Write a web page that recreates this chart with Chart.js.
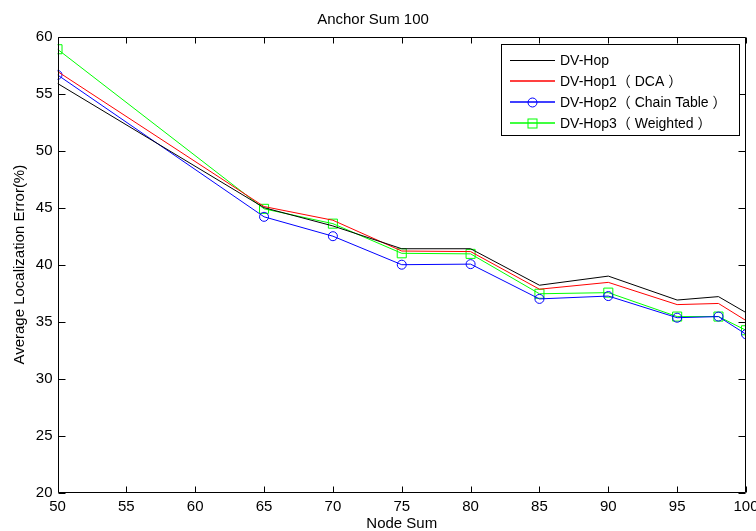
<!DOCTYPE html>
<html>
<head>
<meta charset="utf-8">
<script src="https://cdn.jsdelivr.net/npm/chart.js@4"></script>
<style>
html,body{margin:0;padding:0;background:#fff;overflow:hidden;width:756px;height:531px;}
#c{display:block;}
</style>
</head>
<body>
<canvas id="c" width="780" height="531"></canvas>
<script>
const nodeSum = [50, 65, 70, 75, 80, 85, 90, 95, 98, 100];
const dvHop = [55.9, 45.0, 43.4, 41.4, 41.4, 38.2, 39.0, 36.9, 37.2, 35.8];
const dvHop1 = [56.95, 45.1, 43.9, 41.2, 41.15, 37.85, 38.45, 36.5, 36.6, 35.1];
const dvHop2 = [56.65, 44.2, 42.5, 40.0, 40.05, 37.0, 37.25, 35.35, 35.45, 33.9];
const dvHop3 = [58.9, 44.9, 43.6, 41.0, 40.95, 37.45, 37.55, 35.45, 35.45, 34.25];
const seriesNames = ['DV-Hop', 'DV-Hop1（ DCA ）', 'DV-Hop2（ Chain Table ）', 'DV-Hop3（ Weighted ）'];
const seriesColors = ['#000000', '#ff0000', '#0000ff', '#00ff00'];
const xTicks = [50, 55, 60, 65, 70, 75, 80, 85, 90, 95, 100];
const yTicks = [20, 25, 30, 35, 40, 45, 50, 55, 60];

const FONT = '"Liberation Sans", Arial, "Noto Sans CJK SC", sans-serif';
const toPts = arr => arr.map((v, i) => ({x: nodeSum[i], y: v}));

const frameAndLegend = {
  id: 'frameAndLegend',
  afterDatasetsDraw(chart) {
    const {ctx, chartArea: a, scales: {x, y}} = chart;
    ctx.save();
    ctx.strokeStyle = '#000';
    ctx.lineWidth = 1;
    const L = Math.round(a.left) + 0.5, R = Math.round(a.right) - 0.5;
    const T = Math.round(a.top) + 0.5, B = Math.round(a.bottom) - 0.5;
    ctx.beginPath();
    ctx.rect(L, T, R - L, B - T);
    ctx.stroke();
    ctx.beginPath();
    xTicks.forEach(v => {
      const px = Math.round(x.getPixelForValue(v)) + 0.5;
      ctx.moveTo(px, B); ctx.lineTo(px, B - 6);
      ctx.moveTo(px, T); ctx.lineTo(px, T + 6);
    });
    yTicks.forEach(v => {
      const py = Math.round(y.getPixelForValue(v)) + 0.5;
      ctx.moveTo(L, py); ctx.lineTo(L + 7, py);
      ctx.moveTo(R, py); ctx.lineTo(R - 7, py);
    });
    ctx.stroke();

    // legend box
    const bx = 501.5, by = 44.5, bw = 238, bh = 91;
    ctx.fillStyle = '#fff';
    ctx.fillRect(bx, by, bw, bh);
    ctx.strokeStyle = '#000';
    ctx.strokeRect(bx, by, bw, bh);
    const rows = [60.5, 81.5, 102.5, 123.5];
    ctx.font = '14px ' + FONT;
    ctx.textBaseline = 'middle';
    ctx.textAlign = 'left';
    for (let i = 0; i < 4; i++) {
      const yy = rows[i];
      const ly = i === 0 ? yy : yy - 0.5;
      const col = seriesColors[i];
      ctx.strokeStyle = col;
      ctx.lineWidth = i === 0 ? 1 : 1.3;
      ctx.beginPath();
      ctx.moveTo(510, ly); ctx.lineTo(555, ly);
      ctx.stroke();
      ctx.lineWidth = 1;
      if (i === 2) {
        ctx.beginPath(); ctx.arc(532.5, yy, 4.5, 0, Math.PI * 2); ctx.stroke();
      } else if (i === 3) {
        ctx.strokeRect(528, yy - 4.5, 9, 9);
      }
      ctx.fillStyle = '#000';
      ctx.fillText(seriesNames[i], 560, yy + 1);
    }
    ctx.restore();
  }
};

new Chart(document.getElementById('c'), {
  type: 'line',
  data: {
    datasets: [
      {label: seriesNames[0], data: toPts(dvHop), borderColor: seriesColors[0], borderWidth: 1, pointRadius: 0, tension: 0},
      {label: seriesNames[1], data: toPts(dvHop1), borderColor: seriesColors[1], borderWidth: 1, pointRadius: 0, tension: 0},
      {label: seriesNames[2], data: toPts(dvHop2), borderColor: seriesColors[2], borderWidth: 1, pointStyle: 'circle', pointRadius: 4.5, pointBorderWidth: 1, pointBorderColor: seriesColors[2], pointBackgroundColor: 'rgba(0,0,0,0)', tension: 0},
      {label: seriesNames[3], data: toPts(dvHop3), borderColor: seriesColors[3], borderWidth: 1, pointStyle: 'rect', pointRadius: 6.4, pointBorderWidth: 1, pointBorderColor: seriesColors[3], pointBackgroundColor: 'rgba(0,0,0,0)', tension: 0}
    ]
  },
  options: {
    responsive: false,
    animation: false,
    events: [],
    layout: {padding: {left: 0, right: 34, top: 0, bottom: 0}},
    plugins: {
      legend: {display: false},
      tooltip: {enabled: false},
      title: {
        display: true,
        text: 'Anchor Sum 100',
        color: '#000',
        font: {family: FONT, size: 15, weight: 'normal', lineHeight: 1.2},
        padding: {top: 11, bottom: 7.7}
      }
    },
    scales: {
      x: {
        type: 'linear', min: 50, max: 100,
        afterBuildTicks: s => { s.ticks = xTicks.map(v => ({value: v})); },
        afterFit: s => { s.height = 38.3; },
        grid: {display: false, drawTicks: false},
        border: {display: false},
        ticks: {color: '#000', padding: 5, maxRotation: 0, autoSkip: false, font: {family: FONT, size: 15}},
        title: {display: true, text: 'Node Sum', color: '#000', font: {family: FONT, size: 15, lineHeight: 1}, padding: {top: 0, bottom: 0}}
      },
      y: {
        type: 'linear', min: 20, max: 60,
        afterBuildTicks: s => { s.ticks = yTicks.map(v => ({value: v})); },
        afterFit: s => { s.width = 57.5; },
        grid: {display: false, drawTicks: false},
        border: {display: false},
        ticks: {color: '#000', padding: 5, autoSkip: false, font: {family: FONT, size: 15}},
        title: {display: true, text: 'Average Localization Error(%)', color: '#000', font: {family: FONT, size: 15, lineHeight: 1.2}, padding: {top: 11, bottom: 0}}
      }
    }
  },
  plugins: [frameAndLegend]
});
</script>
</body>
</html>
